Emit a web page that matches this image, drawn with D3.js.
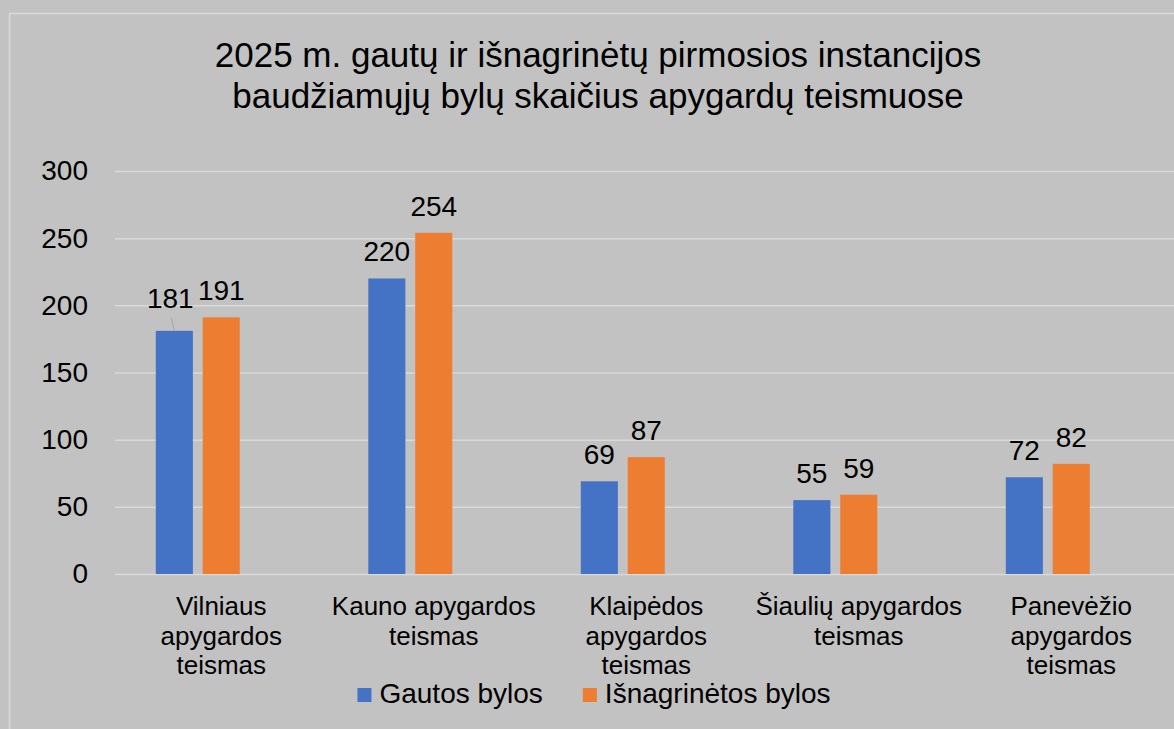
<!DOCTYPE html>
<html>
<head>
<meta charset="utf-8">
<script src="https://cdn.jsdelivr.net/npm/d3@7"></script>
<style>
  html, body { margin: 0; padding: 0; background: #c2c2c2; }
  svg { display: block; font-family: "Liberation Sans", Arial, sans-serif; }
</style>
</head>
<body>
<div class="bar-chart"></div>
<script>
// chart data
var titleLines = ["2025 m. gautų ir išnagrinėtų pirmosios instancijos",
                  "baudžiamųjų bylų skaičius apygardų teismuose"];

var categories = ["Vilniaus", "Kauno", "Klaipėdos", "Šiaulių", "Panevėžio"];
var categoryLabels = [
  ["Vilniaus", "apygardos", "teismas"],
  ["Kauno apygardos", "teismas"],
  ["Klaipėdos", "apygardos", "teismas"],
  ["Šiaulių apygardos", "teismas"],
  ["Panevėžio", "apygardos", "teismas"]
];

var seriesNames = ["Gautos bylos", "Išnagrinėtos bylos"];
var gautos = [181, 220, 69, 55, 72];
var isnagrinetos = [191, 254, 87, 59, 82];

var yTicks = [0, 50, 100, 150, 200, 250, 300];

(function () {

  var W = 1174, H = 729;
  var COLORS = ["#4472c4", "#ed7d31"];

  var plot = { left: 115, right: 1177.5, top: 171, bottom: 574 };

  var svg = d3.select(".bar-chart").append("svg")
      .attr("width", W)
      .attr("height", H);

  svg.append("rect")
      .attr("width", W).attr("height", H)
      .attr("fill", "#c2c2c2");

  // chart frame (runs off the right / bottom edge)
  svg.append("rect")
      .attr("x", 9.5).attr("y", 13.5)
      .attr("width", W + 20).attr("height", H + 20)
      .attr("fill", "none")
      .attr("stroke", "#d9d9d9")
      .attr("stroke-width", 1.5);

  // title
  svg.append("text")
      .attr("x", 598)
      .attr("y", 67)
      .attr("text-anchor", "middle")
      .attr("font-size", 35)
      .attr("fill", "#000")
      .selectAll("tspan")
      .data(titleLines)
      .enter().append("tspan")
      .attr("x", 598)
      .attr("dy", function (d, i) { return i ? 41 : 0; })
      .text(function (d) { return d; });

  var x0 = d3.scaleBand()
      .domain(categories)
      .range([plot.left, plot.right]);

  // the source chart reserves a third (empty) slot in each group
  var x1 = d3.scaleBand()
      .domain([0, 1, 2])
      .range([0, x0.bandwidth()])
      .paddingInner(0.21)
      .paddingOuter(0.87);

  var y = d3.scaleLinear()
      .domain([0, 300])
      .range([plot.bottom, plot.top]);

  // y axis + gridlines
  var yAxis = d3.axisLeft(y)
      .tickValues(yTicks)
      .tickSize(-(plot.right - plot.left + 10))
      .tickPadding(27);

  var gy = svg.append("g")
      .attr("transform", "translate(" + plot.left + ",0)")
      .call(yAxis);
  gy.select(".domain").remove();
  gy.selectAll(".tick line")
      .attr("stroke", "#d9d9d9")
      .attr("stroke-width", 1.5);
  gy.selectAll(".tick text")
      .attr("font-size", 28)
      .attr("font-family", "Liberation Sans, Arial, sans-serif")
      .attr("fill", "#000");

  var series = [gautos, isnagrinetos];

  var rows = [];
  series.forEach(function (vals, s) {
    vals.forEach(function (v, i) {
      rows.push({ s: s, cat: categories[i], value: v });
    });
  });

  svg.selectAll(".bar")
      .data(rows)
      .enter().append("rect")
      .attr("class", "bar")
      .attr("x", function (d) { return x0(d.cat) + x1(d.s); })
      .attr("y", function (d) { return y(d.value); })
      .attr("width", x1.bandwidth())
      .attr("height", function (d) { return y(0) - y(d.value); })
      .attr("fill", function (d) { return COLORS[d.s]; });

  // value labels; the first one was dragged up a bit and got a leader line
  var labelGap = 17;
  svg.selectAll(".val")
      .data(rows)
      .enter().append("text")
      .attr("class", "val")
      .attr("text-anchor", "middle")
      .attr("font-size", 28)
      .attr("fill", "#000")
      .attr("x", function (d, i) {
        var cx = x0(d.cat) + x1(d.s) + x1.bandwidth() / 2;
        return i === 0 ? cx - 4 : cx;
      })
      .attr("y", function (d, i) { return y(d.value) - labelGap - (i === 0 ? 6 : 0); })
      .text(function (d) { return d.value; });

  var first = rows[0];
  var fx = x0(first.cat) + x1(first.s) + x1.bandwidth() / 2;
  svg.append("line")
      .attr("x1", fx - 3).attr("y1", y(first.value) - 13)
      .attr("x2", fx).attr("y2", y(first.value))
      .attr("stroke", "#a6a6a6")
      .attr("stroke-width", 1);

  // category labels
  svg.selectAll(".cat")
      .data(categories)
      .enter().append("text")
      .attr("class", "cat")
      .attr("text-anchor", "middle")
      .attr("font-size", 26)
      .attr("fill", "#000")
      .attr("y", 615)
      .each(function (d, i) {
        var cx = x0(d) + x0.bandwidth() / 2;
        d3.select(this).selectAll("tspan")
          .data(categoryLabels[i])
          .enter().append("tspan")
          .attr("x", cx)
          .attr("dy", function (t, j) { return j ? 29.5 : 0; })
          .text(function (t) { return t; });
      });

  // legend
  var legend = svg.append("g");
  var items = legend.selectAll(".item")
      .data(seriesNames)
      .enter().append("g")
      .attr("class", "item");
  items.append("rect")
      .attr("width", 14).attr("height", 14)
      .attr("y", 688)
      .attr("fill", function (d, i) { return COLORS[i]; });
  items.append("text")
      .attr("x", 22)
      .attr("y", 703)
      .attr("font-size", 28)
      .attr("fill", "#000")
      .text(function (d) { return d; });

  var pos = 0, offs = [];
  items.each(function () {
    offs.push(pos);
    pos += this.getBBox().width + 40;
  });
  var total = pos - 40;
  var start = 594 - total / 2;
  items.attr("transform", function (d, i) { return "translate(" + (start + offs[i]) + ",0)"; });

})();
</script>
</body>
</html>
